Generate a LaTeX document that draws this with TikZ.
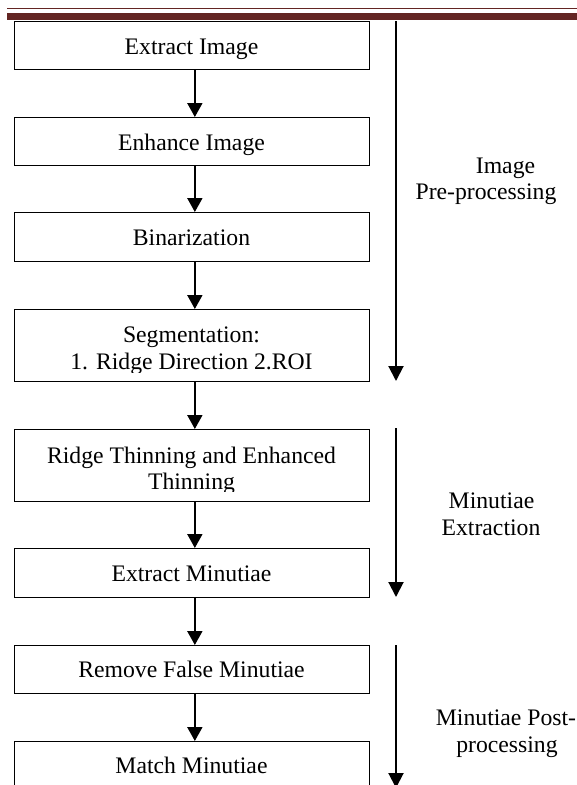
\documentclass[tikz,border=0pt]{standalone}
\usepackage{fontspec}
\setmainfont{Liberation Serif}
\usetikzlibrary{arrows.meta}
\definecolor{hdrred}{RGB}{99,37,35}
\begin{document}
\begin{tikzpicture}[x=1pt,y=-1pt,
  box/.style={draw, line width=1.3pt, rectangle, minimum width=355pt, inner sep=0pt, anchor=north west},
  txt/.style={anchor=base, inner sep=0pt, font=\fontsize{23.7}{27}\selectfont},
  flow/.style={line width=2pt, -{Triangle[length=14pt,width=15pt]}},
  phase/.style={line width=2pt, -{Triangle[length=15pt,width=15pt]}}]
\clip (0,0) rectangle (577,785);
% header rule
\fill[hdrred] (7,12.7) rectangle (577,20);
\draw[hdrred, line width=1.2pt] (7,8.3) -- (577,8.3);
% boxes
\node[box, minimum height=48pt] (b1) at (14,21) {};
\node[box, minimum height=48pt] (b2) at (14,117) {};
\node[box, minimum height=49pt] (b3) at (14,212) {};
\node[box, minimum height=72pt] (b4) at (14,309) {};
\node[box, minimum height=72pt] (b5) at (14,429) {};
\node[box, minimum height=49pt] (b6) at (14,548) {};
\node[box, minimum height=48pt] (b7) at (14,645) {};
\node[box, minimum height=70pt] (b8) at (14,741) {};
% texts
\node[txt] (t1) at (191.5,54) {Extract Image};
\node[txt] (t2) at (191.5,150.5) {Enhance Image};
\node[txt] (t3) at (191.5,245.5) {Binarization};
\node[txt] (t4a) at (191.5,342) {Segmentation:};
\begin{scope}
\clip (14,300) rectangle (369,372);
\node[txt] (t4b) at (191.5,369.5) {1. Ridge Direction 2.ROI};
\end{scope}
\node[txt] (t5a) at (191.5,463.5) {Ridge Thinning and Enhanced};
\begin{scope}
\clip (14,420) rectangle (369,491);
\node[txt] (t5b) at (191.5,489.5) {Thinning};
\end{scope}
\node[txt] (t6) at (191.5,581.5) {Extract Minutiae};
\node[txt] (t7) at (191.5,677.5) {Remove False Minutiae};
\node[txt] (t8) at (191.5,773.5) {Match Minutiae};
% flow arrows
\draw[flow] ([xshift=2.7pt]b1.south) -- ([xshift=2.7pt]b2.north);
\draw[flow] ([xshift=2.7pt]b2.south) -- ([xshift=2.7pt]b3.north);
\draw[flow] ([xshift=2.7pt]b3.south) -- ([xshift=2.7pt]b4.north);
\draw[flow] ([xshift=2.7pt]b4.south) -- ([xshift=2.7pt]b5.north);
\draw[flow] ([xshift=2.7pt]b5.south) -- ([xshift=2.7pt]b6.north);
\draw[flow] ([xshift=2.7pt]b6.south) -- ([xshift=2.7pt]b7.north);
\draw[flow] ([xshift=2.7pt]b7.south) -- ([xshift=2.7pt]b8.north);
% phase arrows
\coordinate (p1s) at (396,21);
\coordinate (p1e) at (396,381);
\coordinate (p2s) at (396,428);
\coordinate (p2e) at (396,597);
\coordinate (p3s) at (396,645);
\coordinate (p3e) at (396,788);
\draw[phase] (p1s) -- (p1e);
\draw[phase] (p2s) -- (p2e);
\draw[phase] (p3s) -- (p3e);
% phase labels
\node[txt] (l1a) at (505.5,173) {Image};
\node[txt] (l1b) at (486,199) {Pre-processing};
\node[txt] (l2a) at (491.5,508) {Minutiae};
\node[txt] (l2b) at (491,535) {Extraction};
\node[txt] (l3a) at (506,725) {Minutiae Post-};
\node[txt] (l3b) at (507,752) {processing};
\end{tikzpicture}
\end{document}
